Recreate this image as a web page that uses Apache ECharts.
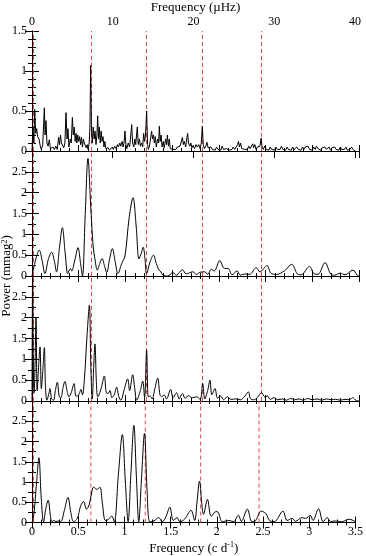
<!DOCTYPE html>
<html>
<head>
<meta charset="utf-8">
<script src="https://cdn.jsdelivr.net/npm/echarts@6/dist/echarts.min.js"></script>
<style>
  html, body { margin: 0; padding: 0; background: #fff; }
  #chart { width: 366px; height: 556px; }
</style>
</head>
<body>
<div id="chart"></div>
<script>
// frequency in c/d, power in mmag^2
const spectrum1 = [
  [0.000,0.00],[0.010,0.30],[0.020,0.10],[0.029,0.52],[0.040,0.22],[0.050,0.28],[0.060,0.18],[0.075,0.15],
  [0.090,0.05],[0.100,0.02],[0.115,0.08],[0.132,0.54],[0.140,0.20],[0.150,0.38],[0.160,0.10],[0.172,0.06],
  [0.185,0.14],[0.197,0.03],[0.210,0.02],[0.225,0.05],[0.240,0.02],[0.255,0.06],[0.270,0.02],[0.285,0.17],
  [0.295,0.08],[0.305,0.20],[0.315,0.10],[0.325,0.12],[0.340,0.04],[0.352,0.10],[0.364,0.48],[0.375,0.15],
  [0.385,0.28],[0.395,0.05],[0.410,0.15],[0.420,0.10],[0.432,0.42],[0.442,0.20],[0.452,0.30],[0.462,0.12],
  [0.472,0.22],[0.480,0.10],[0.490,0.20],[0.500,0.12],[0.510,0.18],[0.520,0.08],[0.530,0.17],[0.540,0.05],
  [0.550,0.15],[0.560,0.10],[0.570,0.12],[0.580,0.04],[0.590,0.08],[0.600,0.02],[0.612,0.10],[0.620,0.30],
  [0.628,1.07],[0.636,0.30],[0.645,0.10],[0.655,0.30],[0.665,0.15],[0.675,0.25],[0.685,0.08],[0.695,0.20],
  [0.703,0.44],[0.712,0.15],[0.720,0.30],[0.730,0.10],[0.740,0.25],[0.750,0.12],[0.760,0.18],[0.770,0.05],
  [0.780,0.12],[0.790,0.03],[0.800,0.02],[0.815,0.04],[0.830,0.01],[0.845,0.03],[0.860,0.05],[0.870,0.02],
  [0.885,0.06],[0.900,0.03],[0.915,0.08],[0.925,0.05],[0.940,0.10],[0.950,0.06],[0.965,0.12],[0.975,0.05],
  [0.985,0.10],[0.995,0.25],[1.005,0.08],[1.015,0.03],[1.030,0.10],[1.045,0.05],[1.057,0.20],[1.067,0.33],
  [1.077,0.10],[1.090,0.05],[1.100,0.15],[1.110,0.08],[1.127,0.30],[1.137,0.08],[1.150,0.15],[1.160,0.06],
  [1.172,0.10],[1.185,0.05],[1.195,0.22],[1.205,0.12],[1.215,0.20],[1.227,0.50],[1.237,0.08],[1.245,0.02],
  [1.255,0.05],[1.265,0.12],[1.280,0.25],[1.290,0.15],[1.300,0.20],[1.310,0.10],[1.320,0.18],[1.330,0.05],
  [1.345,0.15],[1.355,0.10],[1.363,0.31],[1.372,0.12],[1.382,0.20],[1.392,0.05],[1.405,0.12],[1.415,0.04],
  [1.430,0.15],[1.440,0.08],[1.449,0.20],[1.460,0.06],[1.470,0.15],[1.480,0.03],[1.495,0.05],[1.510,0.02],
  [1.525,0.04],[1.540,0.02],[1.555,0.05],[1.570,0.03],[1.585,0.06],[1.600,0.05],[1.610,0.17],[1.620,0.08],
  [1.630,0.12],[1.645,0.05],[1.656,0.15],[1.666,0.22],[1.675,0.10],[1.690,0.06],[1.700,0.10],[1.712,0.04],
  [1.725,0.07],[1.740,0.03],[1.755,0.08],[1.770,0.05],[1.785,0.08],[1.800,0.03],[1.812,0.10],[1.823,0.31],
  [1.833,0.08],[1.845,0.03],[1.860,0.06],[1.872,0.11],[1.885,0.04],[1.900,0.02],[1.915,0.05],[1.930,0.02],
  [1.945,0.04],[1.960,0.01],[1.975,0.05],[1.990,0.02],[2.005,0.04],[2.020,0.01],[2.035,0.06],[2.050,0.02],
  [2.065,0.04],[2.080,0.03],[2.095,0.05],[2.110,0.01],[2.125,0.03],[2.140,0.02],[2.155,0.05],[2.170,0.02],
  [2.185,0.04],[2.200,0.08],[2.210,0.12],[2.220,0.05],[2.232,0.10],[2.245,0.03],[2.260,0.05],[2.275,0.02],
  [2.290,0.04],[2.305,0.02],[2.320,0.06],[2.335,0.03],[2.350,0.05],[2.362,0.09],[2.372,0.04],[2.385,0.08],
  [2.398,0.02],[2.412,0.05],[2.425,0.03],[2.440,0.06],[2.452,0.16],[2.462,0.05],[2.475,0.02],[2.490,0.06],
  [2.505,0.02],[2.520,0.04],[2.535,0.01],[2.550,0.05],[2.565,0.02],[2.580,0.04],[2.595,0.01],[2.610,0.05],
  [2.625,0.02],[2.640,0.04],[2.655,0.02],[2.670,0.06],[2.685,0.02],[2.700,0.03],[2.715,0.01],[2.730,0.05],
  [2.745,0.02],[2.760,0.04],[2.775,0.01],[2.790,0.05],[2.805,0.02],[2.820,0.03],[2.835,0.05],[2.850,0.02],
  [2.865,0.04],[2.880,0.01],[2.895,0.05],[2.910,0.02],[2.925,0.05],[2.940,0.03],[2.955,0.06],[2.970,0.02],
  [2.985,0.04],[3.000,0.01],[3.015,0.05],[3.030,0.02],[3.045,0.06],[3.060,0.03],[3.075,0.05],[3.090,0.01],
  [3.105,0.04],[3.120,0.02],[3.135,0.05],[3.150,0.02],[3.165,0.03],[3.180,0.05],[3.195,0.01],[3.210,0.04],
  [3.225,0.02],[3.240,0.05],[3.255,0.02],[3.270,0.04],[3.285,0.01],[3.300,0.05],[3.315,0.02],[3.330,0.04],
  [3.345,0.02],[3.360,0.05],[3.375,0.01],[3.390,0.03],[3.405,0.02],[3.420,0.05],[3.435,0.02],[3.450,0.04],
  [3.460,0.00]
];

const spectrum2 = [
  [0.000,0.00],[0.040,0.40],[0.078,0.62],[0.110,0.35],[0.138,0.06],[0.175,0.40],[0.210,0.57],[0.240,0.35],
  [0.262,0.10],[0.295,0.70],[0.325,1.16],[0.355,0.55],[0.382,0.06],[0.400,0.15],[0.412,0.18],[0.425,0.12],
  [0.460,0.40],[0.492,0.68],[0.520,0.30],[0.540,0.00],[0.570,1.50],[0.599,2.82],[0.630,1.60],[0.655,0.70],
  [0.670,0.46],[0.700,0.14],[0.725,0.30],[0.750,0.42],[0.775,0.25],[0.800,0.08],[0.830,0.40],[0.860,0.66],
  [0.890,0.35],[0.920,0.06],[0.960,0.30],[0.995,0.48],[1.040,1.40],[1.081,1.88],[1.115,1.20],[1.145,0.41],
  [1.170,0.55],[1.190,0.69],[1.210,0.40],[1.226,0.06],[1.265,0.35],[1.300,0.50],[1.330,0.30],[1.360,0.14],
  [1.380,0.10],[1.400,0.02],[1.450,0.00],[1.510,0.08],[1.545,0.02],[1.610,0.15],[1.650,0.05],[1.720,0.10],
  [1.760,0.04],[1.800,0.09],[1.850,0.10],[1.880,0.04],[1.920,0.16],[1.950,0.12],[2.010,0.37],[2.060,0.18],
  [2.100,0.18],[2.140,0.03],[2.195,0.12],[2.230,0.02],[2.280,0.05],[2.330,0.04],[2.400,0.20],[2.440,0.10],
  [2.515,0.25],[2.560,0.06],[2.620,0.04],[2.700,0.12],[2.780,0.28],[2.840,0.05],[2.880,0.03],[2.970,0.23],
  [3.020,0.05],[3.060,0.04],[3.136,0.32],[3.200,0.04],[3.240,0.02],[3.300,0.07],[3.350,0.03],[3.435,0.14],
  [3.480,0.02],[3.500,0.00]
];

const spectrum3 = [
  [0.000,0.00],[0.007,3.10],[0.014,1.00],[0.022,0.20],[0.032,0.80],[0.043,2.00],[0.055,0.25],[0.070,0.80],
  [0.086,1.30],[0.100,0.30],[0.115,0.70],[0.132,1.28],[0.145,0.30],[0.160,0.02],[0.178,0.15],[0.193,0.30],
  [0.210,0.05],[0.230,0.02],[0.250,0.25],[0.271,0.45],[0.292,0.10],[0.310,0.08],[0.330,0.30],[0.353,0.47],
  [0.375,0.25],[0.395,0.10],[0.420,0.20],[0.450,0.42],[0.470,0.12],[0.490,0.12],[0.510,0.20],[0.524,0.28],
  [0.540,0.15],[0.560,0.50],[0.590,1.60],[0.614,2.30],[0.630,0.80],[0.645,0.05],[0.660,0.80],[0.674,1.37],
  [0.690,0.40],[0.705,0.10],[0.740,0.30],[0.774,0.60],[0.795,0.20],[0.815,0.18],[0.835,0.25],[0.855,0.08],
  [0.880,0.15],[0.906,0.33],[0.930,0.10],[0.950,0.02],[0.990,0.30],[1.024,0.53],[1.045,0.25],[1.077,0.63],
  [1.100,0.30],[1.120,0.02],[1.160,0.25],[1.185,0.48],[1.205,0.08],[1.227,1.22],[1.245,0.10],[1.265,0.12],
  [1.285,0.05],[1.315,0.30],[1.345,0.55],[1.370,0.15],[1.390,0.10],[1.413,0.15],[1.440,0.05],[1.484,0.28],
  [1.510,0.08],[1.548,0.20],[1.575,0.05],[1.610,0.18],[1.640,0.06],[1.673,0.13],[1.715,0.08],[1.762,0.10],
  [1.800,0.04],[1.827,0.42],[1.850,0.05],[1.880,0.25],[1.905,0.50],[1.925,0.15],[1.959,0.30],[1.985,0.07],
  [2.020,0.12],[2.050,0.03],[2.090,0.10],[2.130,0.04],[2.180,0.05],[2.230,0.03],[2.280,0.12],[2.315,0.22],
  [2.340,0.05],[2.380,0.03],[2.410,0.08],[2.458,0.20],[2.490,0.10],[2.520,0.12],[2.550,0.04],[2.590,0.08],
  [2.630,0.03],[2.680,0.05],[2.720,0.02],[2.770,0.06],[2.810,0.03],[2.860,0.05],[2.900,0.02],[2.950,0.06],
  [3.000,0.03],[3.050,0.05],[3.100,0.02],[3.150,0.05],[3.200,0.03],[3.250,0.04],[3.300,0.02],[3.350,0.04],
  [3.400,0.03],[3.430,0.08],[3.470,0.01],[3.500,0.00]
];

const spectrum4 = [
  [0.000,0.00],[0.020,0.20],[0.050,1.00],[0.075,1.60],[0.100,0.60],[0.125,0.02],[0.150,0.35],[0.175,0.55],
  [0.200,0.15],[0.215,0.02],[0.240,0.05],[0.260,0.02],[0.280,0.04],[0.310,0.02],[0.350,0.30],[0.389,0.62],
  [0.420,0.25],[0.450,0.02],[0.490,0.10],[0.525,0.40],[0.557,0.52],[0.590,0.33],[0.620,0.45],[0.655,0.85],
  [0.667,0.87],[0.700,0.82],[0.735,0.87],[0.760,0.50],[0.795,0.05],[0.830,0.08],[0.862,0.16],[0.890,0.02],
  [0.935,1.20],[0.977,2.17],[1.010,1.00],[1.040,0.02],[1.070,1.20],[1.102,2.40],[1.130,1.10],[1.155,0.02],
  [1.185,1.10],[1.217,2.20],[1.245,0.80],[1.275,0.02],[1.320,0.04],[1.370,0.12],[1.410,0.02],[1.450,0.15],
  [1.491,0.38],[1.530,0.05],[1.570,0.12],[1.600,0.02],[1.650,0.08],[1.720,0.30],[1.760,0.05],[1.785,0.50],
  [1.812,1.02],[1.840,0.40],[1.855,0.20],[1.898,0.57],[1.940,0.15],[1.990,0.27],[2.015,0.25],[2.060,0.02],
  [2.130,0.05],[2.180,0.02],[2.233,0.18],[2.265,0.03],[2.330,0.33],[2.380,0.02],[2.420,0.05],[2.480,0.28],
  [2.530,0.22],[2.570,0.05],[2.620,0.02],[2.715,0.28],[2.760,0.05],[2.815,0.10],[2.850,0.03],[2.920,0.12],
  [2.960,0.10],[3.010,0.18],[3.040,0.05],[3.100,0.34],[3.150,0.02],[3.195,0.12],[3.230,0.02],[3.280,0.04],
  [3.350,0.02],[3.430,0.08],[3.500,0.02]
];

// red dashed marker frequencies (c/d)
const markFreqs = [0.0161, 0.6368, 1.2255, 1.8249, 2.4564];

const yMax = [1.5, 3, 3, 3];
const gridTops = [27, 151, 276, 401];
const gridHeights = [124, 125, 125, 125];
const spectra = [spectrum1, spectrum2, spectrum3, spectrum4];

const CD_TO_UHZ = 1e6 / 86400;
const font = 'Liberation Serif';
const red = '#e8423e';

const chart = echarts.init(document.getElementById('chart'));

const grid = [];
const xAxis = [];
const yAxis = [];
const series = [];

const tickStyle = { lineStyle: { color: '#000', width: 1 } };

for (let i = 0; i < 4; i++) {
  grid.push({ left: 32, right: 7, top: gridTops[i], height: gridHeights[i] });

  // bottom axis c/d
  xAxis.push({
    gridIndex: i, type: 'value', min: 0, max: 3.5, interval: 0.5, position: 'bottom',
    axisLine: { lineStyle: { color: '#000', width: 1 } },
    axisTick: { inside: true, length: 6, ...tickStyle },
    minorTick: { show: true, splitNumber: 5, length: 3, lineStyle: { color: '#000' } },
    splitLine: { show: false },
    axisLabel: { show: i === 3, color: '#000', fontFamily: font, fontSize: 12, margin: 3 },
    name: i === 3 ? 'Frequency (c d{sup|-1})' : '',
    nameLocation: 'middle', nameGap: 18,
    nameTextStyle: { color: '#000', fontFamily: font, fontSize: 13,
      rich: { sup: { fontSize: 8, verticalAlign: 'top', fontFamily: font, color: '#000', padding: [0, 0, 8, 0] } } }
  });

  if (i === 0) {
    xAxis.push({
      gridIndex: i, type: 'value', min: 0, max: 3.5 * CD_TO_UHZ, interval: 10, position: 'top',
      axisLine: { lineStyle: { color: '#000', width: 1 } },
      axisTick: { inside: true, length: 7, ...tickStyle },
      splitLine: { show: false },
      axisLabel: { color: '#000', fontFamily: font, fontSize: 12, margin: 3,
        formatter: v => (Math.abs(v % 10) < 1e-6 ? String(v) : '') },
      name: 'Frequency (\u00b5Hz)', nameLocation: 'middle', nameGap: 17,
      nameTextStyle: { color: '#000', fontFamily: font, fontSize: 13 }
    });
  } else {
    xAxis.push({
      gridIndex: i, type: 'value', min: 0, max: 3.5, interval: 0.5, position: 'top',
      axisLine: { lineStyle: { color: '#000', width: 1 } },
      axisTick: { inside: true, length: 6, ...tickStyle },
      minorTick: { show: true, splitNumber: 5, length: 3, lineStyle: { color: '#000' } },
      splitLine: { show: false },
      axisLabel: { show: false }
    });
  }

  const ySplit = i === 0 ? 5 : 2;
  yAxis.push({
    gridIndex: i, type: 'value', min: 0, max: yMax[i], interval: 0.5, position: 'left',
    axisLine: { show: true, lineStyle: { color: '#000', width: 1 } },
    axisTick: { show: true, inside: true, length: 7, ...tickStyle },
    minorTick: { show: true, splitNumber: ySplit, length: 4, lineStyle: { color: '#000' } },
    splitLine: { show: false },
    axisLabel: { color: '#000', fontFamily: font, fontSize: 12, margin: 5,
      formatter: v => (i > 0 && v === 3 ? '' : String(v)) }
  });
  yAxis.push({
    gridIndex: i, type: 'value', min: 0, max: yMax[i], interval: 0.5, position: 'right',
    axisLine: { show: true, lineStyle: { color: '#000', width: 1 } },
    axisTick: { show: true, inside: true, length: 7, ...tickStyle },
    minorTick: { show: true, splitNumber: ySplit, length: 4, lineStyle: { color: '#000' } },
    splitLine: { show: false },
    axisLabel: { show: false }
  });

  // red dashed reference lines, drawn under the spectrum
  markFreqs.forEach(f => {
    series.push({
      type: 'line',
      xAxisIndex: 2 * i,
      yAxisIndex: 2 * i,
      data: [[f, 0], [f, yMax[i]]],
      color: red,
      showSymbol: false,
      silent: true,
      z: 1,
      lineStyle: { color: red, type: [4, 3], width: 1 }
    });
  });

  series.push({
    type: 'line',
    xAxisIndex: 2 * i,
    yAxisIndex: 2 * i,
    data: spectra[i],
    color: '#000',
    showSymbol: false,
    smooth: i === 0 ? false : 0.35,
    lineStyle: { color: '#000', width: 1 },
    clip: true,
    silent: true,
    z: 2
  });
}

chart.setOption({
  backgroundColor: '#fff',
  animation: false,
  grid: grid,
  xAxis: xAxis,
  yAxis: yAxis,
  series: series,
  graphic: [{
    type: 'text',
    rotation: Math.PI / 2,
    x: 7, y: 276,
    style: {
      text: 'Power (mmag{sup|2})',
      font: '13px "Liberation Serif"',
      fill: '#000',
      align: 'center',
      verticalAlign: 'middle',
      rich: { sup: { fontSize: 8, fontFamily: font, fill: '#000', verticalAlign: 'top' } }
    }
  }]
});
</script>
</body>
</html>
